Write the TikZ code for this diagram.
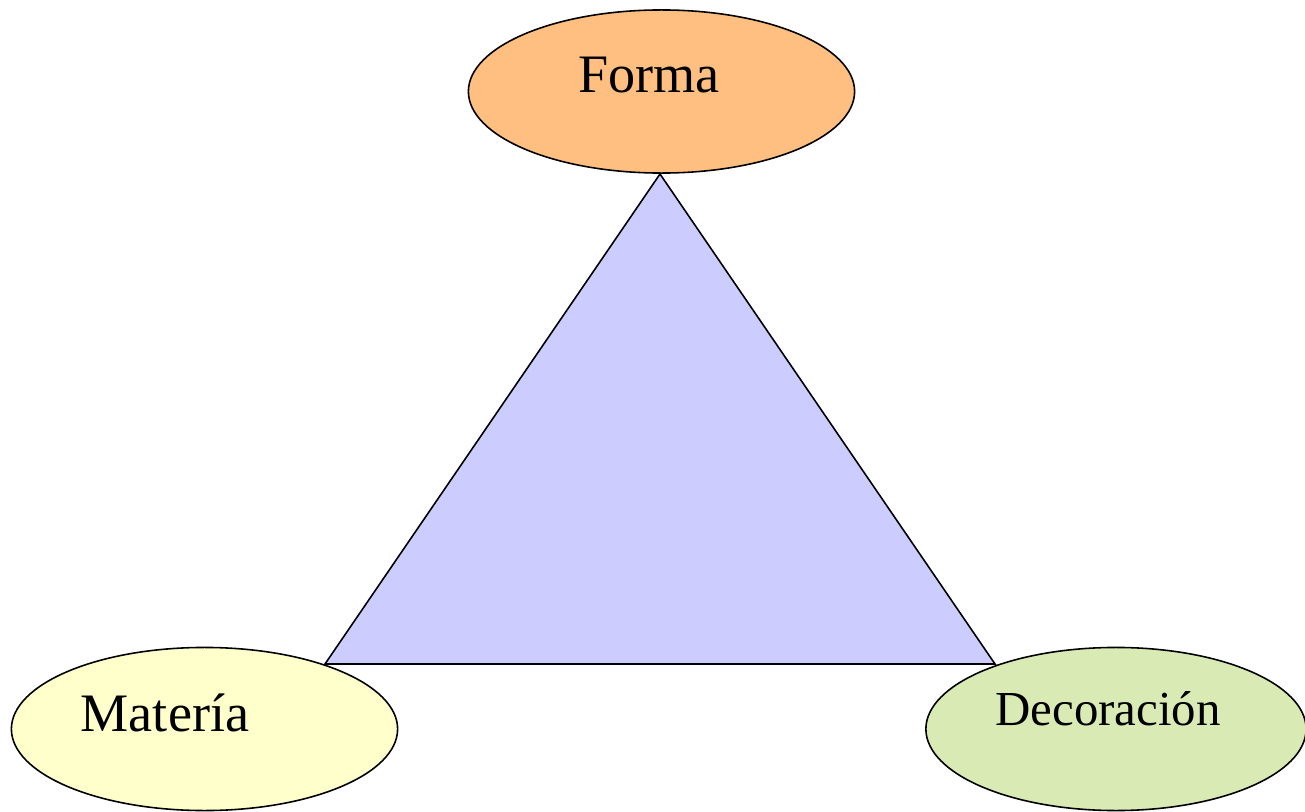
\documentclass[tikz,border=0pt]{standalone}
\usepackage{fontspec}
\setmainfont{Liberation Serif}
\usetikzlibrary{shapes.geometric}

\definecolor{formacol}{RGB}{255,191,128}
\definecolor{materiacol}{RGB}{255,255,204}
\definecolor{decorcol}{RGB}{217,234,181}
\definecolor{triancol}{RGB}{204,204,255}

\begin{document}
\begin{tikzpicture}[x=0.01cm, y=-0.01cm,
  blob/.style={ellipse, draw=black, line width=0.45pt, inner sep=0pt,
               minimum width=3.86cm, minimum height=1.63cm},
  word/.style={anchor=base, inner sep=0pt, font=\fontsize{15.4pt}{18pt}\selectfont}]
\useasboundingbox (0,0) rectangle (1305,812);

\coordinate (top) at (660,174);
\coordinate (left) at (325,664);
\coordinate (right) at (995,664);
\draw [fill=triancol, line width=0.45pt, line join=miter] (top) -- (left) -- (right) -- cycle;

\node [blob, fill=formacol] (forma) at (661.5,91.5) {};
\node [blob, fill=materiacol] (materia) at (204.5,729) {};
\node [blob, fill=decorcol, minimum width=3.80cm] (decor) at (1116,729) {};

\node [word] (formatxt) at (649,93) {Forma};
\node [word] (materiatxt) at (165,731) {Matería};
\node [word, font=\fontsize{13.9pt}{16pt}\selectfont] (decortxt) at (1108,725) {Decoración};

\end{tikzpicture}
\end{document}
